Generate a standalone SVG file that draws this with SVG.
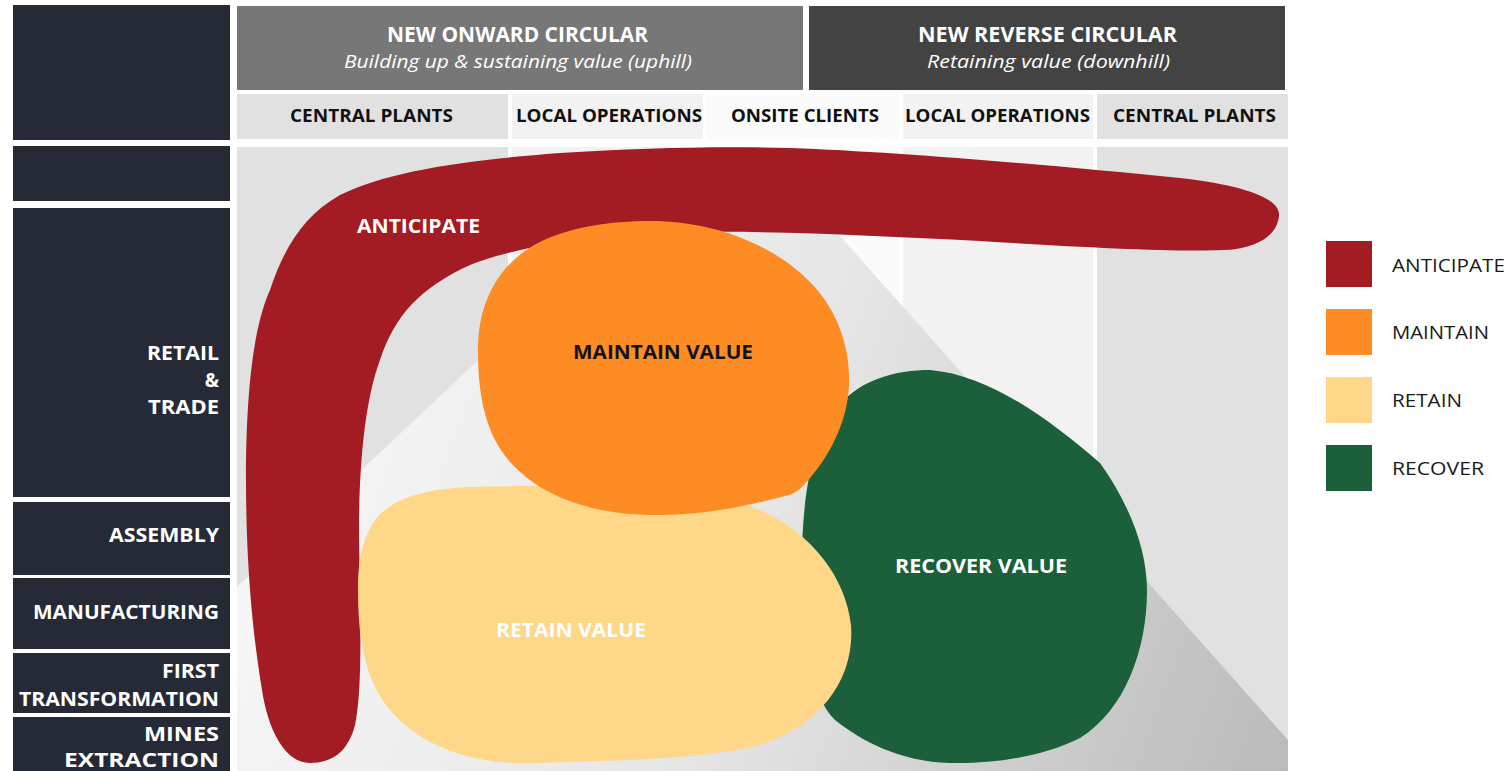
<svg xmlns="http://www.w3.org/2000/svg" width="1512" height="771" viewBox="0 0 1512 771">
<style>
.dark{fill:#262a36}
.t{font-family:"Open Sans","Noto Sans","Liberation Sans",sans-serif;font-weight:700}
.w{fill:#ffffff}
.k{fill:#111111}
.rl{font-size:19px;text-anchor:end}
.cl{font-size:17px;text-anchor:middle}
.hd{font-size:21px;text-anchor:middle}
.it{font-family:"Open Sans","Noto Sans","Liberation Sans",sans-serif;font-style:italic;font-weight:400;font-size:19px;text-anchor:middle;fill:#ffffff}
.lg{font-family:"Open Sans","Noto Sans","Liberation Sans",sans-serif;font-weight:400;font-size:19px;fill:#1a1a1a}
.bl{font-size:20px}
</style>
<defs>
<linearGradient id="mtn" gradientUnits="userSpaceOnUse" x1="300" y1="400" x2="1290" y2="770">
<stop offset="0" stop-color="#f6f6f6"/>
<stop offset="0.45" stop-color="#e6e6e6"/>
<stop offset="1" stop-color="#bababa"/>
</linearGradient>
</defs>
<rect width="1512" height="771" fill="#ffffff"/>

<g id="row-labels">
<rect class="dark" x="13" y="5" width="217" height="135"/>
<rect class="dark" x="13" y="146" width="217" height="55"/>
<rect class="dark" x="13" y="208" width="217" height="289"/>
<text class="t w rl" x="219" y="360" textLength="72" lengthAdjust="spacingAndGlyphs">RETAIL</text>
<text class="t w rl" x="219" y="387">&amp;</text>
<text class="t w rl" x="219" y="414" textLength="71" lengthAdjust="spacingAndGlyphs">TRADE</text>
<rect class="dark" x="13" y="502" width="217" height="73"/>
<text class="t w rl" x="219" y="542" textLength="110" lengthAdjust="spacingAndGlyphs">ASSEMBLY</text>
<rect class="dark" x="13" y="578" width="217" height="71"/>
<text class="t w rl" x="219" y="619" textLength="186" lengthAdjust="spacingAndGlyphs">MANUFACTURING</text>
<rect class="dark" x="13" y="653" width="217" height="60"/>
<text class="t w rl" x="219" y="678" textLength="57" lengthAdjust="spacingAndGlyphs">FIRST</text>
<text class="t w rl" x="219" y="706" textLength="200" lengthAdjust="spacingAndGlyphs">TRANSFORMATION</text>
<rect class="dark" x="13" y="717" width="217" height="54"/>
<text class="t w rl" x="219" y="741" textLength="75" lengthAdjust="spacingAndGlyphs">MINES</text>
<text class="t w rl" x="219" y="767" textLength="155" lengthAdjust="spacingAndGlyphs">EXTRACTION</text>
</g>

<g id="header-onward">
<rect x="237" y="6" width="566" height="84" fill="#777777"/>
<text class="t w hd" x="517.5" y="42" textLength="261" lengthAdjust="spacingAndGlyphs">NEW ONWARD CIRCULAR</text>
<text class="it" x="518" y="68" textLength="348" lengthAdjust="spacingAndGlyphs">Building up &amp; sustaining value (uphill)</text>
</g>
<g id="header-reverse">
<rect x="809" y="6" width="476" height="84" fill="#434343"/>
<text class="t w hd" x="1047.5" y="42" textLength="259" lengthAdjust="spacingAndGlyphs">NEW REVERSE CIRCULAR</text>
<text class="it" x="1048.5" y="68" textLength="243" lengthAdjust="spacingAndGlyphs">Retaining value (downhill)</text>
</g>

<g id="columns">
<rect x="237" y="94" width="271" height="45" fill="#e1e1e1"/>
<rect x="512" y="94" width="191" height="45" fill="#f2f2f2"/>
<rect x="707" y="94" width="192" height="45" fill="#fbfbfb"/>
<rect x="903" y="94" width="190" height="45" fill="#f2f2f2"/>
<rect x="1097" y="94" width="191" height="45" fill="#e1e1e1"/>
<text class="t k cl" x="371.5" y="122" textLength="163" lengthAdjust="spacingAndGlyphs">CENTRAL PLANTS</text>
<text class="t k cl" x="609" y="122" textLength="186" lengthAdjust="spacingAndGlyphs">LOCAL OPERATIONS</text>
<text class="t k cl" x="805" y="122" textLength="148" lengthAdjust="spacingAndGlyphs">ONSITE CLIENTS</text>
<text class="t k cl" x="997.5" y="122" textLength="185" lengthAdjust="spacingAndGlyphs">LOCAL OPERATIONS</text>
<text class="t k cl" x="1194.5" y="122" textLength="163" lengthAdjust="spacingAndGlyphs">CENTRAL PLANTS</text>
<rect x="237" y="147" width="271" height="624" fill="#e1e1e1"/>
<rect x="512" y="147" width="191" height="624" fill="#f2f2f2"/>
<rect x="707" y="147" width="192" height="624" fill="#fbfbfb"/>
<rect x="903" y="147" width="190" height="624" fill="#f2f2f2"/>
<rect x="1097" y="147" width="191" height="624" fill="#e1e1e1"/>
<polygon points="237,587 705,147 761,147 1288,740 1288,771 237,771" fill="url(#mtn)"/>
</g>

<g id="anticipate">
<path fill="#a31c24" d="M310,763 C285,763 268,730 262,690 C252,630 246,560 246,480 C246,400 252,330 270,290 C285,245 305,215 340,195 C390,170 470,160 560,153 C640,148 720,146 790,148 C900,152 1050,165 1180,178 C1250,186 1280,200 1279,215 C1278,235 1258,248 1225,250 C1170,252 1080,247 980,241 C880,236 780,231 700,232 C600,234 520,245 470,265 C420,288 395,315 380,360 C365,400 360,460 359,520 C359,600 364,680 355,725 C348,752 332,763 310,763 Z"/>
<text class="t w bl" x="357" y="233" textLength="123" lengthAdjust="spacingAndGlyphs">ANTICIPATE</text>
</g>

<g id="recover">
<path fill="#1b603a" d="M930,370 C990,375 1050,420 1100,463 C1130,505 1147,550 1147,590 C1147,650 1125,710 1080,738 C1040,758 990,764 950,763 C900,762 860,740 835,720 C810,695 802,640 802,560 C802,490 815,430 840,405 C860,380 895,370 930,370 Z"/>
<text class="t w bl" x="981" y="573" text-anchor="middle" textLength="172" lengthAdjust="spacingAndGlyphs">RECOVER VALUE</text>
</g>

<g id="retain">
<path fill="#fed888" d="M470,487 C560,484 680,488 740,503 C800,520 845,570 851,625 C855,680 820,725 760,745 C700,760 620,760 540,763 C470,766 420,745 390,710 C365,680 358,640 358,590 C358,560 362,540 375,520 C392,498 425,489 470,487 Z"/>
<text class="t w bl" x="571" y="637" text-anchor="middle" textLength="150" lengthAdjust="spacingAndGlyphs">RETAIN VALUE</text>
</g>

<g id="maintain">
<path fill="#fd8c25" d="M650,221 C720,221 790,250 825,300 C845,330 850,360 849,385 C848,420 830,455 810,478 C800,490 795,494 785,496 C740,508 700,515 655,515 C580,515 520,488 495,440 C480,410 478,375 478,350 C478,300 500,262 540,242 C570,227 610,221 650,221 Z"/>
<text class="t k bl" x="663" y="359" text-anchor="middle" textLength="180" lengthAdjust="spacingAndGlyphs">MAINTAIN VALUE</text>
</g>

<g id="legend">
<rect x="1326" y="241" width="46" height="46" fill="#a31c24"/>
<text class="lg" x="1392" y="272" textLength="113" lengthAdjust="spacingAndGlyphs">ANTICIPATE</text>
<rect x="1326" y="309" width="46" height="46" fill="#fd8c25"/>
<text class="lg" x="1392" y="339" textLength="97" lengthAdjust="spacingAndGlyphs">MAINTAIN</text>
<rect x="1326" y="377" width="46" height="46" fill="#fed888"/>
<text class="lg" x="1392" y="407" textLength="70" lengthAdjust="spacingAndGlyphs">RETAIN</text>
<rect x="1326" y="445" width="46" height="46" fill="#1b603a"/>
<text class="lg" x="1392" y="475" textLength="92" lengthAdjust="spacingAndGlyphs">RECOVER</text>
</g>
</svg>
